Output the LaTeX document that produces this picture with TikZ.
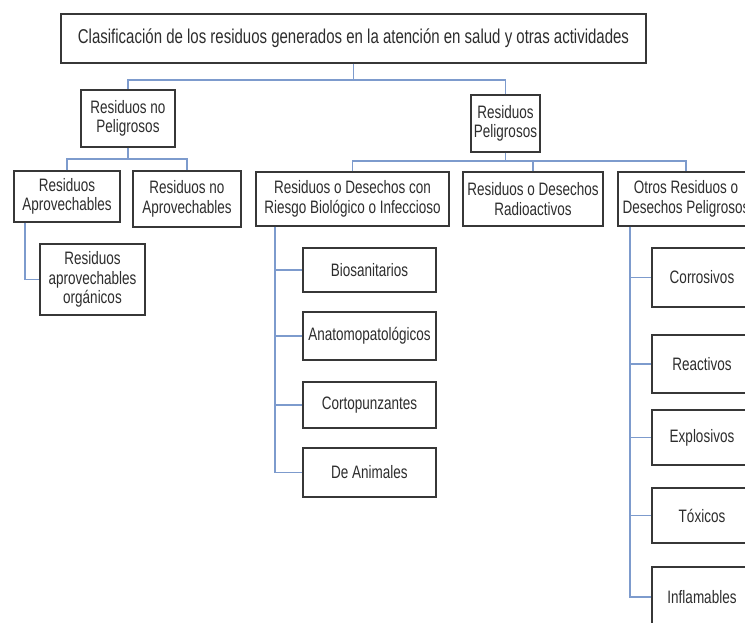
\documentclass[tikz,border=0pt]{standalone}
\usepackage{fontspec}
\setmainfont{Liberation Sans}[FakeStretch=0.75]
\definecolor{conncol}{RGB}{125,155,205}
\definecolor{boxcol}{RGB}{55,55,55}
\definecolor{txtcol}{RGB}{45,45,45}
\tikzset{
  box/.style={draw=boxcol, line width=1.4pt, fill=white, align=center, inner sep=0pt,
    text=txtcol, font=\fontsize{18}{19.5}\selectfont},
  conn/.style={draw=conncol, line width=1.2pt}
}
\begin{document}
\begin{tikzpicture}[x=1pt,y=-1pt]
\useasboundingbox (0,0) rectangle (745,622);
\fill[white] (0,0) rectangle (745,622);
\begin{scope}
\clip (0,0) rectangle (745,622);
% nodes
\node[box, minimum width=585, minimum height=49, font=\fontsize{20}{22}\selectfont] (title) at (353.5,38.5) {Clasificación de los residuos generados en la atención en salud y otras actividades};
\node[box, minimum width=94, minimum height=57] (nop) at (128,118.5) {Residuos no\\Peligrosos};
\node[box, minimum width=69, minimum height=57] (pel) at (505.5,123.5) {Residuos\\Peligrosos};
\node[box, minimum width=106, minimum height=51] (apr) at (67,196.5) {Residuos\\Aprovechables};
\node[box, minimum width=108, minimum height=56] (noapr) at (187,199) {Residuos no\\Aprovechables};
\node[box, minimum width=105, minimum height=71] (org) at (92.5,279.5) {Residuos\\aprovechables\\orgánicos};
\node[box, minimum width=193, minimum height=54] (bio) at (352.5,199) {Residuos o Desechos con\\Riesgo Biológico o Infeccioso};
\node[box, minimum width=140, minimum height=54] (rad) at (533,199) {Residuos o Desechos\\Radioactivos};
\node[box, minimum width=136, minimum height=54] (otr) at (686,199) {Otros Residuos o\\Desechos Peligrosos};
\node[box, minimum width=133, minimum height=44] (bs) at (369.5,270) {Biosanitarios};
\node[box, minimum width=133, minimum height=48] (an) at (369.5,336) {Anatomopatológicos};
\node[box, minimum width=133, minimum height=46] (co) at (369.5,405) {Cortopunzantes};
\node[box, minimum width=133, minimum height=49] (da) at (369.5,472.5) {De Animales};
\node[box, minimum width=100, minimum height=59] (cr) at (702,277.5) {Corrosivos};
\node[box, minimum width=100, minimum height=58] (re) at (702,364) {Reactivos};
\node[box, minimum width=100, minimum height=55] (ex) at (702,437.5) {Explosivos};
\node[box, minimum width=100, minimum height=55] (tx) at (702,515.5) {Tóxicos};
\node[box, minimum width=100, minimum height=60] (inf) at (702,597) {Inflamables};
% helper coordinates
\coordinate (ya) at (0,80);
\coordinate (yb) at (0,159);
\coordinate (yc) at (0,161);
\coordinate (xa) at (25,0);
\coordinate (xb) at (275,0);
\coordinate (xc) at (630,0);
% connectors
\draw[conn] (title.south) -- (title.south |- ya) -| (nop.north);
\draw[conn] (title.south |- ya) -| (pel.north);
\draw[conn] (nop.south) -- (nop.south |- yb);
\draw[conn] (apr.north) |- (noapr.north |- yb) -- (noapr.north);
\draw[conn] (pel.south) -- (pel.south |- yc);
\draw[conn] (bio.north) |- (otr.north |- yc) -- (otr.north);
\draw[conn] (rad.north) -- (rad.north |- yc);
\draw[conn] (apr.south -| xa) |- (org.west);
\draw[conn] (bio.south -| xb) |- (da.west);
\draw[conn] (xb |- bs.west) -- (bs.west);
\draw[conn] (xb |- an.west) -- (an.west);
\draw[conn] (xb |- co.west) -- (co.west);
\draw[conn] (otr.south -| xc) |- (inf.west);
\draw[conn] (xc |- cr.west) -- (cr.west);
\draw[conn] (xc |- re.west) -- (re.west);
\draw[conn] (xc |- ex.west) -- (ex.west);
\draw[conn] (xc |- tx.west) -- (tx.west);
\end{scope}
\end{tikzpicture}
\end{document}
